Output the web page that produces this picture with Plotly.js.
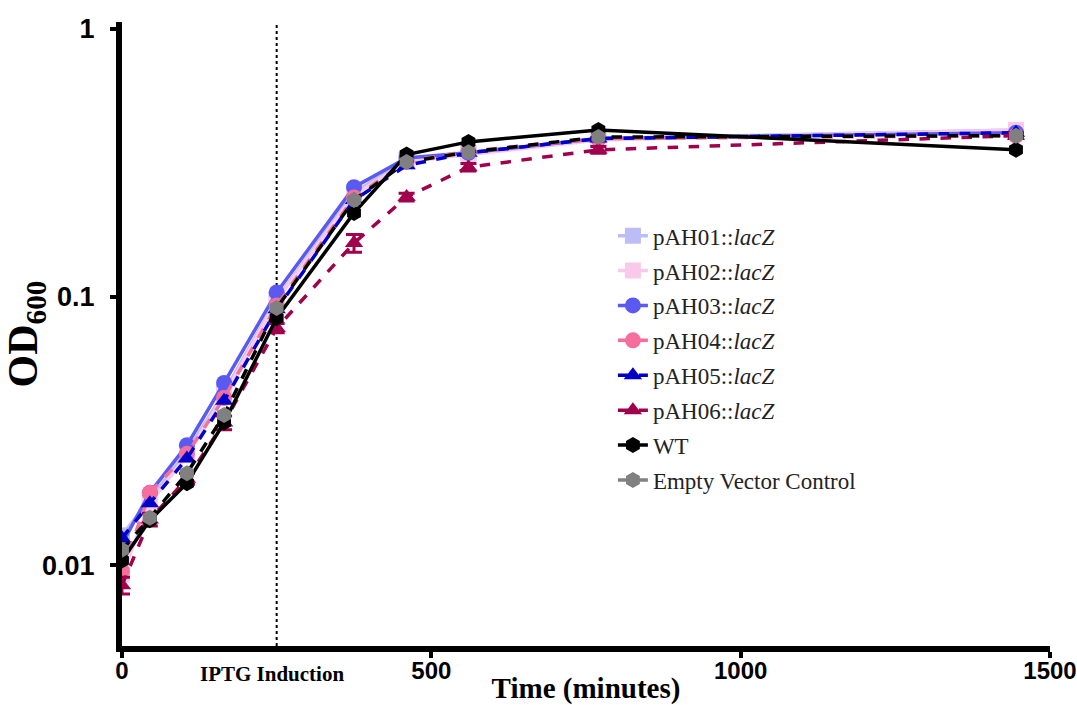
<!DOCTYPE html>
<html>
<head>
<meta charset="utf-8">
<script src="https://cdn.plot.ly/plotly-3.0.1.min.js"></script>
<style>html,body{margin:0;padding:0;background:#fff;}#chart{width:1077px;height:705px;}</style>
</head>
<body>
<div id="chart"></div>
<script>
const timeMin = [0, 45, 105, 165, 250, 375, 460, 560, 770, 1445];
const pAH01 = [0.0129, 0.0175, 0.0265, 0.044, 0.098, 0.245, 0.325, 0.345, 0.39, 0.42];
const pAH02 = [0.0092, 0.017, 0.0257, 0.043, 0.097, 0.24, 0.32, 0.34, 0.385, 0.42];
const pAH03 = [0.012, 0.0186, 0.028, 0.0478, 0.104, 0.257, 0.33, 0.345, 0.39, 0.41];
const pAH04 = [0.0095, 0.0186, 0.026, 0.042, 0.093, 0.235, 0.32, 0.35, 0.39, 0.40];
const pAH05 = [0.0126, 0.017, 0.025, 0.041, 0.09, 0.23, 0.31, 0.345, 0.39, 0.41];
const pAH06 = [0.0084, 0.0148, 0.021, 0.034, 0.0766, 0.159, 0.236, 0.305, 0.354, 0.40];
const pAH06err = [0.0006, 0.0008, 0.001, 0.002, 0.003, 0.012, 0.008, 0.01, 0.01, 0.01];
const WT = [0.0104, 0.0147, 0.0202, 0.034, 0.0835, 0.206, 0.34, 0.379, 0.42, 0.354];
const EVC = [0.0114, 0.015, 0.022, 0.0363, 0.091, 0.23, 0.319, 0.347, 0.395, 0.40];
const inductionTime = 250;

function tr(name, y, color, symbol, dash, extra) {
  return Object.assign({
    type: 'scatter', mode: 'lines+markers', x: timeMin, y: y, name: name,
    legendgroup: name,
    line: {color: color, width: 3.5, dash: dash},
    marker: {color: color, symbol: symbol, size: 16}
  }, extra || {});
}

const traces = [
  tr('pAH01::<i>lacZ</i>', pAH01, '#bcbcf7', 'square', 'solid'),
  tr('pAH02::<i>lacZ</i>', pAH02, '#f9c9ea', 'square', 'solid'),
  tr('pAH03::<i>lacZ</i>', pAH03, '#5a5af2', 'circle', 'solid'),
  tr('pAH04::<i>lacZ</i>', pAH04, '#f66f9c', 'circle', 'dash'),
  tr('pAH05::<i>lacZ</i>', pAH05, '#0000c8', 'triangle-up', 'dash'),
  tr('pAH06::<i>lacZ</i>', pAH06, '#a0004c', 'triangle-up', 'dash',
     {error_y: {type: 'data', array: pAH06err, visible: true, color: '#a0004c', thickness: 3, width: 8}}),
  tr('WT', WT, '#000000', 'hexagon', 'solid'),
  Object.assign(tr('Empty Vector Control', EVC, '#808080', 'hexagon', 'dash'),
     {line: {color: '#000000', width: 3.5, dash: 'dash'}, showlegend: false}),
  {type: 'scatter', mode: 'lines+markers', x: [null], y: [null], name: 'Empty Vector Control',
   legendgroup: 'Empty Vector Control',
   line: {color: '#808080', width: 3.5}, marker: {color: '#808080', symbol: 'hexagon', size: 16}}
];

const layout = {
  width: 1077, height: 705,
  margin: {l: 122, r: 27, t: 22, b: 59},
  paper_bgcolor: '#fff', plot_bgcolor: '#fff',
  showlegend: true,
  legend: {x: 0.529, y: 0.692, xanchor: 'left', yanchor: 'top',
           font: {family: 'Liberation Serif, Times New Roman, serif', size: 23, color: '#222'},
           tracegroupgap: 2, itemwidth: 30, bgcolor: 'rgba(0,0,0,0)'},
  xaxis: {
    range: [0, 1500], tickvals: [0, 500, 1000, 1500], ticktext: ['0', '500', '1000', '1500'],
    showgrid: false, zeroline: false, showline: true, linecolor: '#000', linewidth: 6,
    ticks: 'outside', ticklen: 6, tickwidth: 4, tickcolor: '#000',
    ticklabeloverflow: 'allow', ticklabelstandoff: -8,
    tickfont: {family: 'Liberation Sans, Arial', size: 24, color: '#000', weight: 'bold'},
    title: {text: '<b>Time (minutes)</b>', standoff: 0,
            font: {family: 'Liberation Serif, Times New Roman, serif', size: 29, color: '#000'}}
  },
  yaxis: {
    type: 'log', range: [-2.302, 0.026],
    tickvals: [0.01, 0.1, 1], ticktext: ['0.01', '0.1', '1'],
    showgrid: false, zeroline: false, showline: true, linecolor: '#000', linewidth: 6,
    ticks: 'outside', ticklen: 6, tickwidth: 4, tickcolor: '#000',
    ticklabelstandoff: 10,
    tickfont: {family: 'Liberation Sans, Arial', size: 27, color: '#000', weight: 'bold'},
    title: {text: '<b>OD<sub>600</sub></b>', standoff: 8,
            font: {family: 'Liberation Serif, Times New Roman, serif', size: 42, color: '#000'}}
  },
  shapes: [{type: 'line', xref: 'x', yref: 'paper', x0: inductionTime, x1: inductionTime, y0: 0, y1: 1,
            line: {color: '#000', width: 2, dash: 'dot'}, layer: 'below'}],
  annotations: [{xref: 'x', yref: 'paper', x: inductionTime - 8, y: -0.022, yanchor: 'top', showarrow: false,
                 text: '<b>IPTG Induction</b>',
                 font: {family: 'Liberation Serif, Times New Roman, serif', size: 21, color: '#000'}}]
};

Plotly.newPlot('chart', traces, layout, {displayModeBar: false});
</script>
</body>
</html>
